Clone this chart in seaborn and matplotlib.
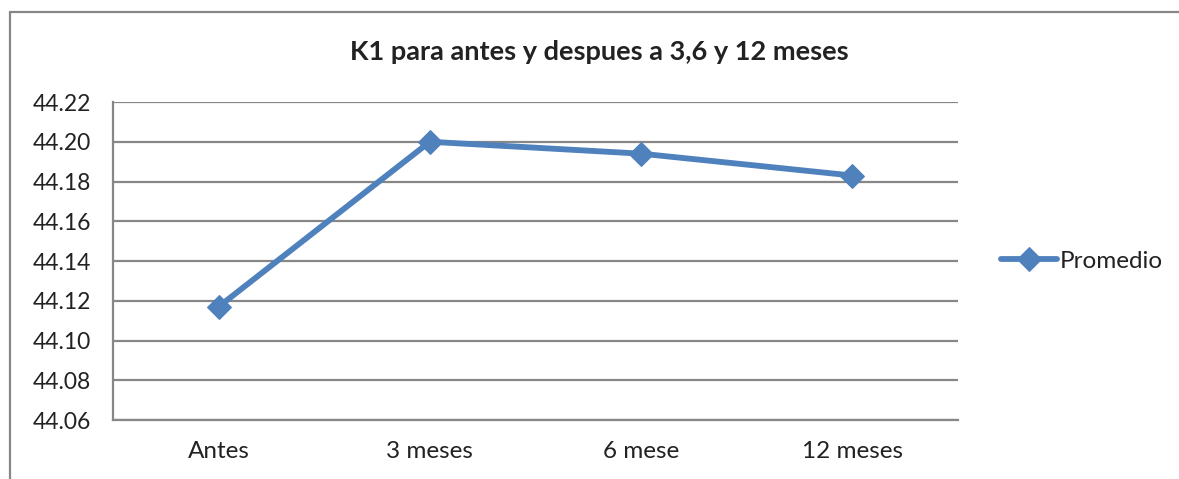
import pandas as pd
import matplotlib.pyplot as plt
import seaborn as sns
from matplotlib.lines import Line2D

# data
periods = ["Antes", "3 meses", "6 mese", "12 meses"]
promedio = [44.117, 44.200, 44.194, 44.183]
y_ticks = [44.06, 44.08, 44.10, 44.12, 44.14, 44.16, 44.18, 44.20, 44.22]

blue = "#4F81BD"
grid_gray = "#878787"

sns.set_style("white")
plt.rcParams["font.family"] = ["Lato", "DejaVu Sans"]

df = pd.DataFrame({"periodo": periods, "valor": promedio})

fig = plt.figure(figsize=(11.79, 4.79), dpi=100)
ax = fig.add_axes([113 / 1179, 1 - 420 / 479, (958 - 113) / 1179, (420 - 102) / 479])

sns.lineplot(data=df, x="periodo", y="valor", ax=ax, sort=False, color=blue,
             linewidth=4.2, marker="D", markersize=12, markeredgecolor=blue,
             label="Promedio")

ax.set_ylim(44.06, 44.22)
ax.set_yticks(y_ticks)
ax.set_yticklabels([f"{v:.2f}" for v in y_ticks])
ax.yaxis.grid(True, color=grid_gray, linewidth=1.6)
ax.set_axisbelow(True)

# category ticks between groups, labels centred
ax.set_xlim(-0.5, len(periods) - 0.5)
ax.set_xticks([i - 0.5 for i in range(len(periods) + 1)])
ax.set_xticklabels([])
ax.set_xticks(range(len(periods)), minor=True)
ax.set_xticklabels(periods, minor=True)
ax.tick_params(axis="x", which="major", length=7, width=1.6, color=grid_gray, direction="out")
ax.tick_params(axis="x", which="minor", length=0, pad=15, labelsize=17.5, labelcolor="#222222")
ax.tick_params(axis="y", length=8, width=1.6, color=grid_gray, pad=8, labelsize=16.5, labelcolor="#222222")

ax.set_xlabel("")
ax.set_ylabel("")
for s in ["top", "right"]:
    ax.spines[s].set_visible(False)
for s in ["left", "bottom"]:
    ax.spines[s].set_color(grid_gray)
    ax.spines[s].set_linewidth(1.6)

ax.legend(loc="center left", bbox_to_anchor=(1.025, 0.5), frameon=False,
          fontsize=17.5, handlelength=2.3, handletextpad=0.1, labelcolor="#222222")

fig.text(0.508, 1 - 52 / 479, "K1 para antes y despues a 3,6 y 12 meses",
         ha="center", va="center", fontsize=19.5, fontweight="bold", color="#222222")

# chart frame (left and top edges visible)
fig.add_artist(Line2D([10 / 1179, 10 / 1179], [0, 1 - 12 / 479], transform=fig.transFigure,
                      color=grid_gray, linewidth=1.6))
fig.add_artist(Line2D([10 / 1179, 1], [1 - 12 / 479, 1 - 12 / 479], transform=fig.transFigure,
                      color=grid_gray, linewidth=1.6))

fig.savefig("out.png", dpi=100)
